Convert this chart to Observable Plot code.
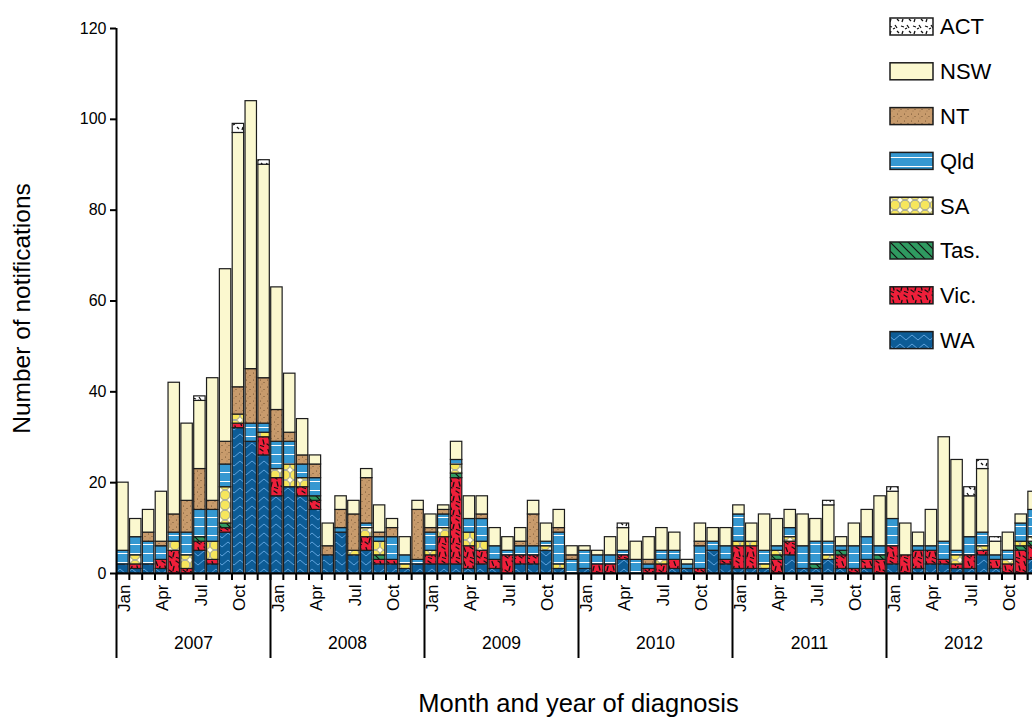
<!DOCTYPE html>
<html><head><meta charset="utf-8">
<script src="https://cdn.jsdelivr.net/npm/d3@7"></script>
<script src="https://cdn.jsdelivr.net/npm/@observablehq/plot@0.6"></script>
<style>
html,body{margin:0;padding:0;overflow:hidden;background:#fff;}
#chart{position:relative;width:1040px;height:722px;}
</style></head><body>
<svg width="0" height="0" style="position:absolute"><defs>
<pattern id="pWA" patternUnits="userSpaceOnUse" width="12" height="9">
  <rect width="12" height="9" fill="#0d5c96"/>
  <path d="M0,2 L6,7 L12,2" fill="none" stroke="#5ea2dc" stroke-width="1"/>
</pattern>
<pattern id="pVic" patternUnits="userSpaceOnUse" width="14" height="14">
  <rect width="14" height="14" fill="#ee1f3a"/>
  <path d="M2,1.5 l1.5,4 M8,1 l3,2 M6,6.5 l-1,4 M11,6 l1,4 M1,10 l3,2 M8.5,11.5 l3,1" stroke="#111" stroke-width="1.3" stroke-linecap="round"/>
</pattern>
<pattern id="pTas" patternUnits="userSpaceOnUse" width="9" height="9">
  <rect width="9" height="9" fill="#2f9a60"/>
  <path d="M-2,-2 L11,11 M-2,7 L2,11 M7,-2 L11,2" stroke="#111" stroke-width="1.2"/>
</pattern>
<pattern id="pSA" patternUnits="userSpaceOnUse" width="10" height="10">
  <rect width="10" height="10" fill="#f7e65c"/>
  <circle cx="5" cy="5" r="4.8" fill="none" stroke="#8f98b8" stroke-width="0.9"/>
  <path d="M0,-2.3 L2.3,0 L0,2.3 L-2.3,0Z M10,-2.3 L12.3,0 L10,2.3 L7.7,0Z M0,7.7 L2.3,10 L0,12.3 L-2.3,10Z M10,7.7 L12.3,10 L10,12.3 L7.7,10Z" fill="#fff"/>
</pattern>
<pattern id="pQld" patternUnits="userSpaceOnUse" width="10" height="9">
  <rect width="10" height="9" fill="#3598d1"/>
  <line x1="0" x2="10" y1="4.5" y2="4.5" stroke="#fff" stroke-width="1"/>
</pattern>
<pattern id="pNT" patternUnits="userSpaceOnUse" width="7" height="7">
  <rect width="7" height="7" fill="#c89b6c"/>
  <circle cx="1.5" cy="2" r="0.5" fill="#5a3d22"/>
  <circle cx="5" cy="4.5" r="0.5" fill="#5a3d22"/>
  <circle cx="3" cy="6" r="0.4" fill="#6b4a2a"/>
</pattern>
<pattern id="pACT" patternUnits="userSpaceOnUse" width="12" height="12">
  <rect width="12" height="12" fill="#fff"/>
  <path d="M1,2 l3,1 M7,1 l2,3 M3,7 l-1,3 M9,7 l2,2 M5,5 l2,-1" stroke="#111" stroke-width="1.3"/>
</pattern>
</defs></svg>
<div id="chart"></div>
<script>
// Monthly notifications, Jan 2007 - Dec 2012
const wa  = [2,1,2,1,0,0,5,2,9,32,29,26, 17,19,17,14,4,9,4,5,2,2,1,2, 2,2,2,1,2,1,0,2,2,5,1,0, 1,0,0,3,0,0,0,1,1,0,5,2, 1,1,1,0,4,1,1,3,1,0,1,0, 2,0,1,2,2,1,1,4,1,0,0,3];
const vic = [0,1,0,2,5,1,2,1,1,1,0,4, 4,0,2,2,0,0,0,3,1,1,0,0, 2,6,19,5,3,2,4,2,2,0,0,0, 0,2,2,1,0,1,2,2,0,1,0,1, 5,5,0,3,3,0,0,0,3,1,2,3, 4,4,4,3,1,1,3,1,2,2,5,3];
const tas = [0,0,0,0,0,0,1,0,1,0,0,0, 0,0,0,1,0,0,0,0,1,0,0,0, 0,0,1,0,0,0,0,0,0,0,0,0, 0,0,0,0,0,0,0,0,0,0,0,0, 0,0,0,1,0,0,1,0,1,0,0,1, 0,0,0,0,0,0,0,0,0,0,1,1];
const sa  = [0,2,0,0,2,3,0,4,8,2,0,1, 2,5,2,0,0,0,1,2,3,0,1,0, 1,2,2,3,2,0,0,0,0,1,1,0, 0,0,0,0,0,0,1,0,0,0,0,0, 1,1,1,1,1,0,0,1,0,0,0,0, 0,0,0,0,0,2,0,1,0,1,1,1];
const qld = [3,4,5,3,2,5,6,7,5,0,4,2, 6,5,3,4,0,1,0,1,1,5,2,1, 4,3,1,3,5,3,1,2,2,1,7,3, 4,2,2,1,3,1,2,2,1,5,2,3, 6,0,3,1,2,5,5,3,1,5,5,2, 6,0,1,1,4,1,4,3,1,2,4,6];
const nt  = [0,0,2,1,4,7,9,2,5,6,12,10, 7,2,2,3,2,4,8,10,1,2,0,11, 1,1,0,0,1,0,0,1,7,0,1,1, 0,0,0,0,0,1,0,0,0,1,0,0, 0,0,0,0,0,0,0,0,0,0,0,0, 0,0,0,0,0,0,0,0,0,0,0,0];
const nsw = [15,4,5,11,29,17,15,27,38,56,59,47, 27,13,8,2,5,3,3,2,6,2,4,2, 3,1,4,5,4,4,3,3,3,4,4,2, 1,1,4,5,4,5,5,4,1,4,3,4, 2,4,8,6,4,7,5,8,2,5,6,11, 6,7,3,8,23,20,9,14,3,4,2,4];
const act = [0,0,0,0,0,0,1,0,0,2,0,1, 0,0,0,0,0,0,0,0,0,0,0,0, 0,0,0,0,0,0,0,0,0,0,0,0, 0,0,0,1,0,0,0,0,0,0,0,0, 0,0,0,0,0,0,0,1,0,0,0,0, 1,0,0,0,0,0,2,2,1,0,0,0];

const states = ["WA","Vic","Tas","SA","Qld","NT","NSW","ACT"];            // stacking order, bottom to top
const legendStates = ["ACT","NSW","NT","Qld","SA","Tas","Vic","WA"];
const legendLabels = ["ACT","NSW","NT","Qld","SA","Tas.","Vic.","WA"];
const years = ["2007","2008","2009","2010","2011","2012"];
const monthNames = ["Jan","Feb","Mar","Apr","May","Jun","Jul","Aug","Sep","Oct","Nov","Dec"];
const labelMonths = ["Jan","Apr","Jul","Oct"];
const yTicks = [0,20,40,60,80,100,120];
const yTitle = "Number of notifications";
const xTitle = "Month and year of diagnosis";

const fills = {WA:"url(#pWA)", Vic:"url(#pVic)", Tas:"url(#pTas)", SA:"url(#pSA)", Qld:"url(#pQld)", NT:"url(#pNT)", NSW:"#fbf8cf", ACT:"url(#pACT)"};
const series = {WA: wa, Vic: vic, Tas: tas, SA: sa, Qld: qld, NT: nt, NSW: nsw, ACT: act};

const nMonths = years.length * 12;
const data = [];
for (let m = 0; m < nMonths; m++) for (const s of states) {
  const v = series[s][m];
  if (v > 0) data.push({m, state: s, value: v});
}
const monthLabelData = [];
for (let m = 0; m < nMonths; m++) {
  const name = monthNames[m % 12];
  if (labelMonths.includes(name)) monthLabelData.push({m, label: name});
}
const yearBounds = d3.range(0, nMonths + 1, 12);

const FONT = "'Liberation Sans', Arial, Helvetica, sans-serif";
const plot = Plot.plot({
  width: 1040, height: 722,
  marginLeft: 116, marginRight: 0, marginTop: 28, marginBottom: 149,
  style: {fontFamily: FONT, background: "transparent", maxWidth: "none", overflow: "visible", color: "#000"},
  x: {domain: [0, nMonths]},
  y: {domain: [0, 120]},
  color: {domain: states, range: states.map(s => fills[s])},
  marks: [
    Plot.rectY(data, {x: "m", y: "value", interval: 1, fill: "state", stroke: "#1c1c1c", strokeWidth: 1.2, insetLeft: 0.7, insetRight: 0.7}),
    Plot.ruleY([0], {strokeWidth: 2}),
    Plot.ruleX([0], {strokeWidth: 2}),
    Plot.axisY({ticks: yTicks, tickSize: 6, tickPadding: 4, fontSize: 16, strokeWidth: 2, label: null}),
    Plot.axisX({ticks: d3.range(0, nMonths + 1), tickSize: 7, strokeWidth: 2, tickFormat: () => "", label: null}),
    Plot.axisX({ticks: yearBounds, tickSize: 85, strokeWidth: 2, tickFormat: () => "", label: null}),
    Plot.text(monthLabelData, {x: d => d.m + 0.5, text: "label", frameAnchor: "bottom", dx: 7, dy: 11, rotate: -90, textAnchor: "end", fontSize: 17}),
    Plot.text(years, {x: (d, i) => i * 12 + 6, text: d => d, frameAnchor: "bottom", dy: 75, fontSize: 17.5}),
    Plot.text([xTitle], {frameAnchor: "bottom", dy: 138, fontSize: 25.5}),
    Plot.text([yTitle], {frameAnchor: "left", dx: -94, dy: 7.5, rotate: -90, textAnchor: "middle", fontSize: 24.5})
  ]
});

// legend (top right)
const svg = d3.select(plot);
const lg = svg.append("g").attr("font-family", FONT).attr("font-size", 22).attr("text-anchor", "start");
legendStates.forEach((s, i) => {
  const cy = 26.5 + i * 44.8;
  lg.append("rect").attr("x", 890).attr("y", cy - 8.5).attr("width", 43).attr("height", 17)
    .attr("fill", fills[s]).attr("stroke", "#1c1c1c").attr("stroke-width", 1.5);
  lg.append("text").attr("x", 940).attr("y", cy).attr("dy", "0.36em").text(legendLabels[i]);
});
document.getElementById("chart").appendChild(plot);
</script>
</body></html>
